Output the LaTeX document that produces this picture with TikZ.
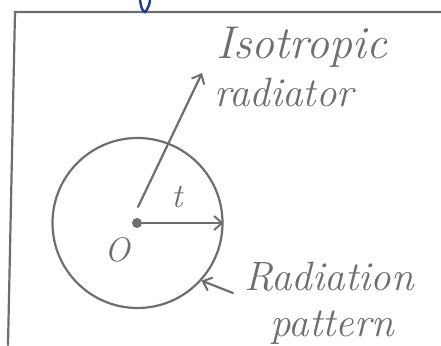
\documentclass[tikz,border=0pt]{standalone}
\usetikzlibrary{arrows.meta}
\definecolor{pen}{RGB}{110,110,110}
\definecolor{ink}{RGB}{30,60,150}
\tikzset{
  stroke/.style={draw=pen, line width=2.2pt, line cap=round},
  arr/.style={stroke, -{Straight Barb[length=8pt,width=14pt,line width=2pt]}},
  hand/.style={text=pen, font=\fontsize{44}{44}\selectfont\itshape, inner sep=0pt, anchor=base west},
}
\begin{document}
\begin{tikzpicture}[x=1pt,y=1pt]
\useasboundingbox[fill=white] (0,0) rectangle (441,345);
% frame
\draw[stroke] (441,333) -- (15,333) -- (8,0);
% blue ink fragment at top
\draw[draw=ink, line width=2.4pt, line cap=round] (140,345) .. controls (141,338) and (142,334) .. (145,333) .. controls (148,336) and (150,342) .. (150,345);
% radiation pattern
\node[circle, stroke, minimum size=170pt, inner sep=0pt] (circ) at (137.5,122) {};
\node[circle, fill=pen, minimum size=10pt, inner sep=0pt] (o) at (137,122) {};
\draw[arr] (o) -- (circ.east);
% labels
\node[hand, anchor=center, font=\fontsize{34}{34}\selectfont\itshape] (t) at (177,148) {t};
\node[hand, anchor=center, font=\fontsize{34}{34}\selectfont\itshape] (olab) at (117,95) {O};
\node[hand, font=\fontsize{46}{46}\selectfont\itshape] (iso) at (216,286) {Isotropic};
\node[hand, font=\fontsize{41}{41}\selectfont\itshape] (rad) at (214,238) {radiator};
\node[hand, font=\fontsize{41}{41}\selectfont\itshape] (radn) at (244,54) {Radiation};
\node[hand, font=\fontsize{41}{41}\selectfont\itshape] (pat) at (270,9) {pattern};
% arrows to the texts / circle
\coordinate (isostart) at (138,138);
\coordinate (isotip) at (202,272);
\draw[arr] (isostart) -- (isotip);
\coordinate (patail) at (233,52);
\draw[arr] (patail) -- (circ.-42);
\end{tikzpicture}
\end{document}
